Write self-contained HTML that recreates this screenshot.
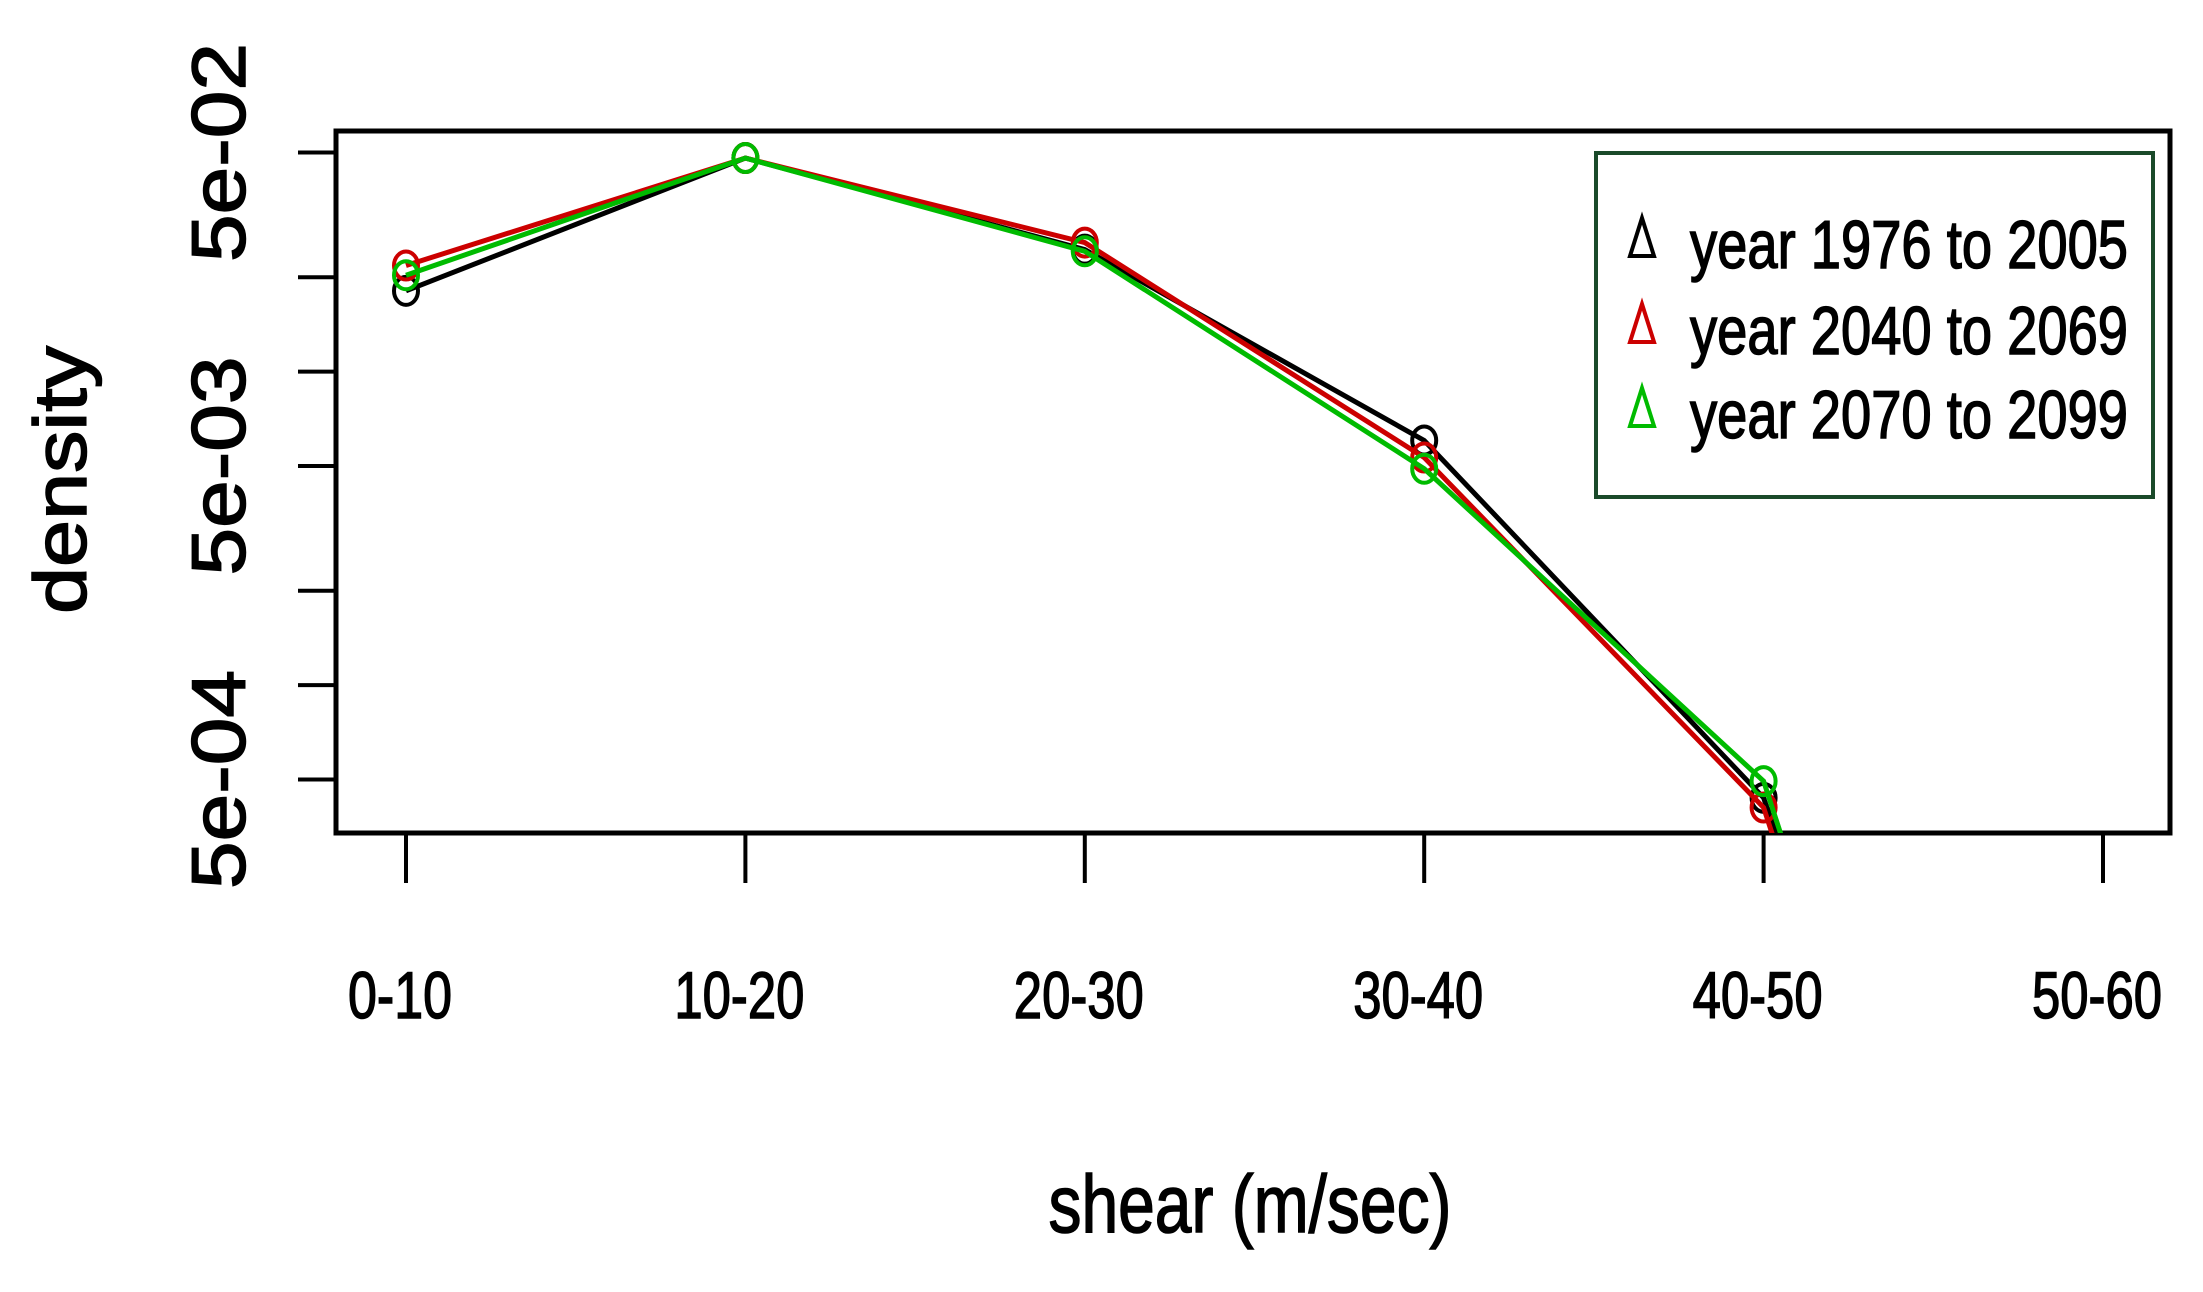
<!DOCTYPE html>
<html><head><meta charset="utf-8"><style>
html,body{margin:0;padding:0;background:#fff;overflow:hidden;width:2203px;height:1292px;}
svg{display:block;font-family:"Liberation Sans",sans-serif;}
text{stroke:#000;stroke-width:1.5px;}
</style></head><body>
<svg id="chart" width="2203" height="1292" viewBox="0 0 2203 1292">
<defs><clipPath id="clip"><rect x="336" y="131" width="1834" height="702"/></clipPath></defs>
<rect x="336" y="131" width="1834" height="702" fill="none" stroke="#000" stroke-width="5"/>
<g id="yaxis"></g>
<g id="xaxis"></g>
<g id="series" clip-path="url(#clip)"></g>
<text x="86" y="480" font-size="74" text-anchor="middle" textLength="268" lengthAdjust="spacingAndGlyphs" transform="rotate(-90 86 480)" fill="#000">density</text>
<text x="1250" y="1232" font-size="82" text-anchor="middle" textLength="403" lengthAdjust="spacingAndGlyphs" fill="#000">shear (m/sec)</text>
<g>
<rect x="1596" y="153" width="557" height="344" fill="#fff" stroke="#1a4a2a" stroke-width="4"/>
<g id="legend-items"></g>
</g>
</svg>
<script>
const categories = ["0-10","10-20","20-30","30-40","40-50","50-60"];
const seriesNames = ["year 1976 to 2005","year 2040 to 2069","year 2070 to 2099"];
const seriesColors = ["#000000","#cc0000","#00bb00"];
const s1976 = [0.0181,0.0480,0.0245,0.00603,0.000437,3e-7];
const s2040 = [0.0218,0.0480,0.0258,0.00532,0.000407,2e-7];
const s2070 = [0.0203,0.0480,0.0242,0.00490,0.000494,2.3e-7];
const yTicks = [5e-2,2e-2,1e-2,5e-3,2e-3,1e-3,5e-4];
const yTickLabels = ["5e-02","","","5e-03","","","5e-04"];

const NS="http://www.w3.org/2000/svg";
function mk(t,a,p){const e=document.createElementNS(NS,t);for(const k in a)e.setAttribute(k,a[k]);p.appendChild(e);return e;}
const xScale=i=>406+i*339.4;
const yScale=v=>152.5-313.5*(Math.log10(v)-Math.log10(5e-2));

const ya=document.getElementById('yaxis');
yTicks.forEach((v,i)=>{
  const y=yScale(v);
  const l=mk('line',{x1:298,x2:336,y1:y,y2:y,stroke:'#000','stroke-width':4},ya);
  
  
  if(yTickLabels[i]){
    const t=mk('text',{x:245,y:y,'font-size':76,'text-anchor':'middle',textLength:219,lengthAdjust:'spacingAndGlyphs',transform:`rotate(-90 245 ${y})`},ya);
    t.textContent=yTickLabels[i];
    
    
  }
});
const xa=document.getElementById('xaxis');
categories.forEach((c,i)=>{
  const x=xScale(i);
  const l=mk('line',{x1:x,x2:x,y1:833,y2:883,stroke:'#000','stroke-width':4},xa);
  
  
  const t=mk('text',{x:x-6,y:1018,'font-size':66,'text-anchor':'middle',textLength:c.length*26,lengthAdjust:'spacingAndGlyphs'},xa);
  t.textContent=c;
  
  
});
const sg=document.getElementById('series');
[s1976,s2040,s2070].forEach((d,si)=>{
  const g=mk('g',{},sg);
  
  
  const pl=mk('polyline',{points:d.map((v,i)=>xScale(i)+','+yScale(v)).join(' '),fill:'none',stroke:seriesColors[si],'stroke-width':5},g);
  
  
  d.forEach((v,i)=>{
    const c=mk('ellipse',{cx:xScale(i),cy:yScale(v),rx:12,ry:14,fill:'none',stroke:seriesColors[si],'stroke-width':4},g);
    
    
  });
});
const li=document.getElementById('legend-items');
const ly=[268,354,438];
seriesNames.forEach((n,i)=>{
  const tri=mk('path',{d:`M1642 ${ly[i]-50} L1630 ${ly[i]-12} L1654 ${ly[i]-12} Z`,fill:'none',stroke:seriesColors[i],'stroke-width':4},li);
  
  
  const t=mk('text',{x:1690,y:ly[i],'font-size':68,textLength:438,lengthAdjust:'spacingAndGlyphs'},li);
  t.textContent=n;
  
  
});
</script>
</body></html>
